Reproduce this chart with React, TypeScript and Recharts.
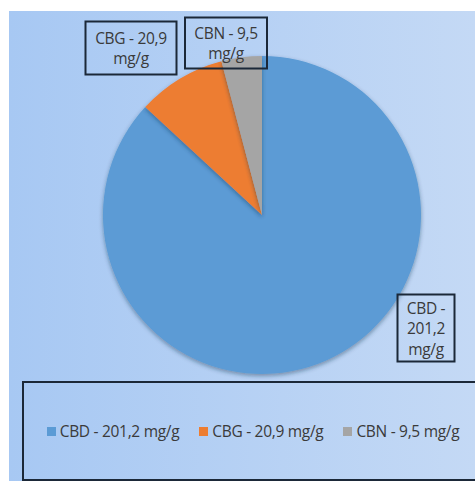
import React from "react";
import { PieChart, Pie, Cell, Legend } from "recharts";

const names = ["CBD", "CBG", "CBN"];
const values = [201.2, 20.9, 9.5];
const valueLabels = ["201,2", "20,9", "9,5"];
const colors = ["#5b9bd5", "#ed7d31", "#a5a5a5"];

// label boxes: lines of text and offset of box centre from pie centre
const labelLines = [
   ["CBD -", "201,2", "mg/g"],
   ["CBG - 20,9", "mg/g"],
   ["CBN - 9,5", "mg/g"],
];
const labelBoxes = [
   { dx: 164, dy: 113, w: 57, h: 67 },
   { dx: -131, dy: -167, w: 91, h: 53 },
   { dx: -36, dy: -172, w: 82, h: 51 },
];

const chartData = names.map(function (name, i) {
   return { name: name, value: values[i], legend: name + " - " + valueLabels[i] + " mg/g" };
});

const FONT = "'Open Sans', 'Liberation Sans', sans-serif";
const TEXT = "#3a3a3a";
const BORDER = "#1b2838";

const renderLabel = function (props: any) {
   const box = labelBoxes[props.index];
   const lines = labelLines[props.index];
   const x = props.cx + box.dx;
   const y = props.cy + box.dy;
   const lineH = 20.5;
   const top = y - ((lines.length - 1) * lineH) / 2;
   return (
      <g>
         <rect
            x={x - box.w / 2}
            y={y - box.h / 2}
            width={box.w}
            height={box.h}
            fill="none"
            stroke={BORDER}
            strokeWidth={2}
         />
         {lines.map(function (line, i) {
            return (
               <text
                  key={i}
                  x={x}
                  y={top + i * lineH}
                  textAnchor="middle"
                  dominantBaseline="central"
                  fill={TEXT}
                  fontSize={15.5}
                  letterSpacing={-0.3}
                  fontFamily={FONT}
               >
                  {line}
               </text>
            );
         })}
      </g>
   );
};

const renderLegend = function () {
   return (
      <div
         style={{
            boxSizing: "border-box",
            width: 454,
            height: 100,
            border: "2px solid " + BORDER,
            borderRight: "none",
            display: "flex",
            alignItems: "center",
            justifyContent: "center",
            gap: 20,
            fontFamily: FONT,
            fontSize: 15.5,
            letterSpacing: -0.3,
            color: TEXT,
            paddingLeft: 6,
            whiteSpace: "nowrap",
         }}
      >
         {chartData.map(function (d, i) {
            return (
               <span key={d.name} style={{ display: "flex", alignItems: "center" }}>
                  <span
                     style={{
                        display: "inline-block",
                        width: 9,
                        height: 9,
                        background: colors[i],
                        marginRight: 4,
                     }}
                  />
                  {d.legend}
               </span>
            );
         })}
      </div>
   );
};

export default function App() {
   return (
      <div
         style={{
            position: "absolute",
            left: 0,
            top: 0,
            width: 475,
            height: 481,
            background: "#ffffff",
         }}
      >
         <div
            style={{
               position: "absolute",
               left: 9,
               top: 11,
               width: 466,
               height: 470,
               background: "linear-gradient(to right, #a7c8f3, #c4d9f5)",
            }}
         />
         <div style={{ position: "absolute", left: 0, top: 0 }}>
            <PieChart width={475} height={481}>
               <defs>
                  <filter id="pieShadow" x="-20%" y="-20%" width="140%" height="140%">
                     <feDropShadow dx="0" dy="2" stdDeviation="2" floodColor="#1a3050" floodOpacity="0.45" />
                  </filter>
               </defs>
               <Pie
                  data={chartData}
                  dataKey="value"
                  nameKey="name"
                  cx={257}
                  cy={210}
                  outerRadius={159}
                  startAngle={90}
                  endAngle={-270}
                  stroke="none"
                  isAnimationActive={false}
                  label={renderLabel}
                  labelLine={false}
                  style={{ filter: "url(#pieShadow)" }}
               >
                  {chartData.map(function (d, i) {
                     return <Cell key={d.name} fill={colors[i]} />;
                  })}
               </Pie>
               <Legend
                  content={renderLegend}
                  wrapperStyle={{ left: 22, top: 381, width: 454, height: 100 }}
               />
            </PieChart>
         </div>
      </div>
   );
}
